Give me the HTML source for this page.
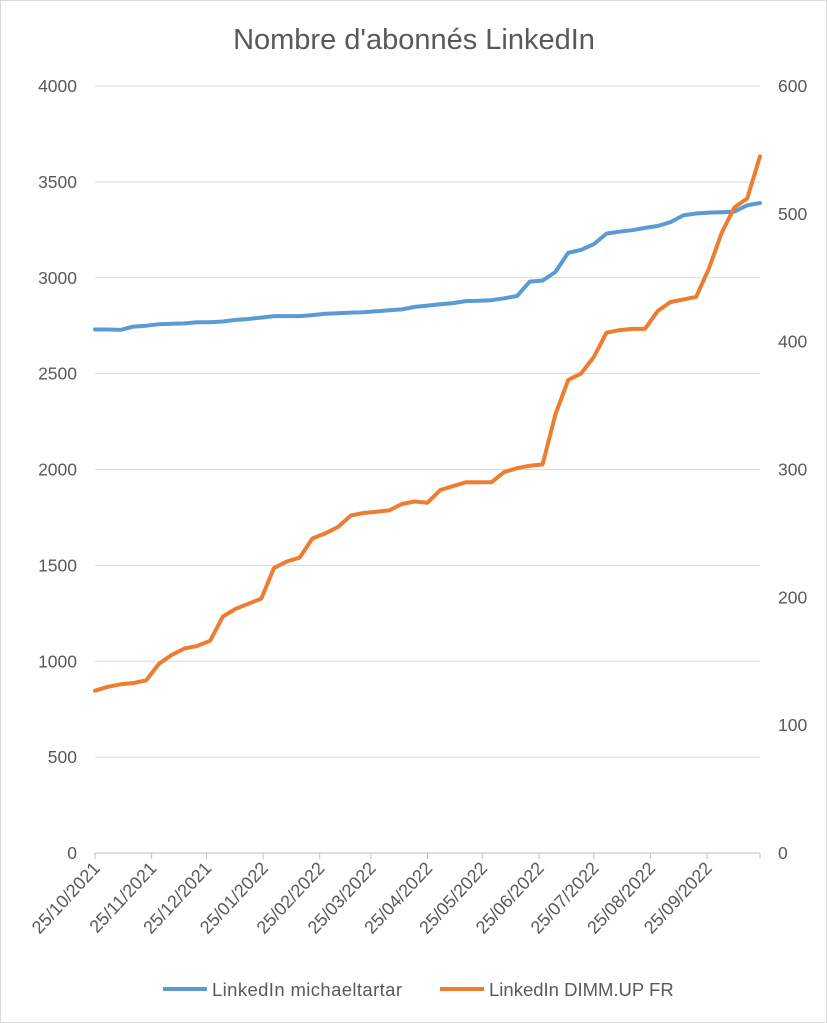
<!DOCTYPE html>
<html><head><meta charset="utf-8"><style>
html,body{margin:0;padding:0;background:#fff}
svg{display:block;font-family:"Liberation Sans",sans-serif}
</style></head><body>
<svg id="chart" width="827" height="1023">
<rect x="0.5" y="0.5" width="826" height="1022" fill="#fff" stroke="#d9d9d9"/>
<text x="414" y="49" text-anchor="middle" font-size="29" fill="#595959">Nombre d'abonnés LinkedIn</text>
<g id="grid"></g><g id="axes"></g><g id="series"></g>
<g>
<line x1="163" y1="989" x2="207" y2="989" stroke="#5b9bd5" stroke-width="4"/>
<text x="212" y="996" font-size="18.5" fill="#595959" textLength="190">LinkedIn michaeltartar</text>
<line x1="440" y1="989" x2="484" y2="989" stroke="#ed7d31" stroke-width="4"/>
<text x="489" y="996" font-size="18.5" fill="#595959">LinkedIn DIMM.UP FR</text>
</g>
</svg>
<script>
const leftTicks=[0,500,1000,1500,2000,2500,3000,3500,4000];
const rightTicks=[0,100,200,300,400,500,600];
const dateLabels=["25/10/2021","25/11/2021","25/12/2021","25/01/2022","25/02/2022","25/03/2022","25/04/2022","25/05/2022","25/06/2022","25/07/2022","25/08/2022","25/09/2022"];
const labelDays=[0,31,61,92,123,151,182,212,243,273,304,335];
const weeks=[0,1,2,3,4,5,6,7,8,9,10,11,12,13,14,15,16,17,18,19,20,21,22,23,24,25,26,27,28,29,30,31,32,33,34,35,36,37,38,39,40,41,42,43,44,45,46,47,48,49,50,51,52];
const michaeltartar=[2730,2730,2728,2745,2750,2758,2760,2762,2768,2768,2772,2780,2785,2792,2800,2800,2800,2805,2812,2815,2818,2820,2825,2830,2835,2848,2855,2862,2868,2878,2880,2883,2893,2905,2980,2985,3030,3130,3145,3175,3230,3240,3248,3260,3270,3290,3325,3335,3340,3342,3345,3378,3390];
const dimmup=[127,130,132,133,135,148,155,160,162,166,185,191,195,199,223,228,231,246,250,255,264,266,267,268,273,275,274,284,287,290,290,290,298,301,303,304,343,370,375,388,407,409,410,410,424,431,433,435,457,485,505,512,545];

const X0=95,X1=760,Y0=853,Y1=86,totalDays=364;
const xDay=d=>X0+(X1-X0)*d/totalDays;
const yL=v=>Y0-(Y0-Y1)*v/4000;
const yR=v=>Y0-(Y0-Y1)*v/600;
const NS="http://www.w3.org/2000/svg";
function mk(tag,attrs,parent){const e=document.createElementNS(NS,tag);for(const k in attrs)e.setAttribute(k,attrs[k]);parent.appendChild(e);return e;}
const grid=document.getElementById('grid'),axes=document.getElementById('axes'),series=document.getElementById('series');
leftTicks.forEach(v=>{
  if(v>0){const g=mk('line',{x1:X0,x2:X1,y1:yL(v),y2:yL(v),stroke:'#d9d9d9','stroke-width':1},grid);
  
  }
  const t=mk('text',{x:77,y:yL(v)+6,'text-anchor':'end','font-size':17.5,fill:'#595959'},axes);t.textContent=v;
  
  
});
rightTicks.forEach(v=>{
  const t=mk('text',{x:778,y:yR(v)+6,'font-size':17.5,fill:'#595959'},axes);t.textContent=v;
  
  
});
const ax=mk('line',{x1:X0,x2:X1,y1:Y0,y2:Y0,stroke:'#bfbfbf','stroke-width':1},axes);


dateLabels.forEach((l,i)=>{
  const x=xDay(labelDays[i]);
  const tk=mk('line',{x1:x,x2:x,y1:Y0,y2:Y0+6,stroke:'#bfbfbf'},axes);
  
  
  const t=mk('text',{x:x+6,y:Y0+16,'text-anchor':'end','font-size':18,fill:'#595959',transform:`rotate(-47 ${x+6} ${Y0+16})`},axes);
  t.textContent=l;
  
  
});
const lt=mk('line',{x1:X1,x2:X1,y1:Y0,y2:Y0+6,stroke:'#bfbfbf'},axes);


function line(vals,yf,color,name){
  const d=vals.map((v,i)=>(i?'L':'M')+xDay(weeks[i]*7).toFixed(1)+','+yf(v).toFixed(1)).join('');
  const p=mk('path',{d:d,fill:'none',stroke:color,'stroke-width':4,'stroke-linejoin':'round','stroke-linecap':'round'},series);
  
  
}
line(michaeltartar,yL,'#5b9bd5','series-michaeltartar');
line(dimmup,yR,'#ed7d31','series-dimmup-fr');
</script>
</body></html>
